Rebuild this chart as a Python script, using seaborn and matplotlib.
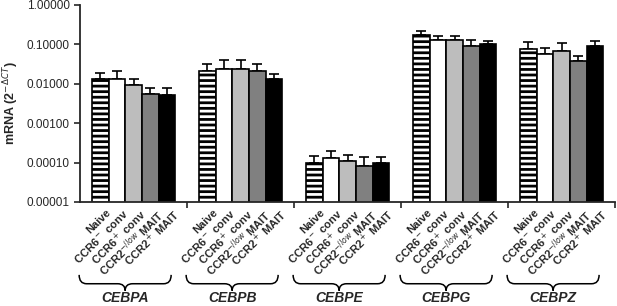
import matplotlib
matplotlib.use("Agg")
import matplotlib.pyplot as plt
from matplotlib.path import Path
from matplotlib.patches import PathPatch
import matplotlib.transforms as mtransforms
import numpy as np
import pandas as pd
import seaborn as sns

genes = ["CEBPA", "CEBPB", "CEBPE", "CEBPG", "CEBPZ"]
cells = ["Naive", "CCR6$^-$ conv", "CCR6$^+$ conv", "CCR2$^{-/low}$ MAIT", "CCR2$^+$ MAIT"]

# mean expression per gene (rows) and cell type (cols)
means = [
    [0.013, 0.013, 0.0095, 0.0056, 0.0052],
    [0.021, 0.023, 0.023, 0.021, 0.013],
    [0.00010, 0.00013, 0.00011, 0.000083, 0.000098],
    [0.17, 0.125, 0.125, 0.092, 0.10],
    [0.075, 0.058, 0.068, 0.038, 0.088],
]
# top of error bar
upper = [
    [0.019, 0.021, 0.013, 0.0076, 0.0080],
    [0.032, 0.040, 0.040, 0.031, 0.018],
    [0.00015, 0.00020, 0.00016, 0.00014, 0.00014],
    [0.22, 0.16, 0.16, 0.13, 0.12],
    [0.115, 0.080, 0.110, 0.050, 0.120],
]

colors = ["white", "white", "#bdbdbd", "#808080", "black"]

rows = []
for g, mrow, urow in zip(genes, means, upper):
    for c, m, u in zip(cells, mrow, urow):
        rows.append({"gene": g, "cell": c, "value": m, "upper": u})
df = pd.DataFrame(rows)

sns.set_style("ticks")
plt.rcParams["font.family"] = ["Liberation Sans", "DejaVu Sans"]
plt.rcParams["hatch.linewidth"] = 2.0
plt.rcParams["hatch.color"] = "black"

fig = plt.figure(figsize=(6.17, 3.06), dpi=100)
ax = fig.add_axes([0.13, 0.34, 0.867, 0.644])

sns.barplot(data=df, x="gene", y="value", hue="cell", order=genes, hue_order=cells,
            palette=colors, errorbar=None, width=0.78, edgecolor="black",
            linewidth=1.2, legend=False, ax=ax)
ax.set_yscale("log", nonpositive="clip")

# error bars (upper only), hatch for naive, rotated cell labels
for i, c in enumerate(cells):
    cont = ax.containers[i]
    sub = df[df.cell == c].set_index("gene").loc[genes]
    xs = [p.get_x() + p.get_width() / 2 for p in cont.patches]
    ax.errorbar(xs, sub["value"], yerr=[np.zeros(len(xs)), sub["upper"] - sub["value"]],
                fmt="none", ecolor="black", elinewidth=1.2, capsize=3.5, capthick=1.2, zorder=1)
    if i == 0:
        for p in cont.patches:
            p.set_hatch("---")
    for j, p in enumerate(cont.patches):
        p.set_zorder(2)
        ax.text(xs[j] + 0.05, 0.0000075, c, rotation=45, ha="right", va="top",
                rotation_mode="anchor", fontsize=8, fontweight="bold")

ax.set_ylim(1e-5, 1)
ax.set_xlim(-0.5, 4.5)
ax.set_yticks([1e-5, 1e-4, 1e-3, 1e-2, 1e-1, 1])
ax.set_yticklabels(["0.00001", "0.00010", "0.00100", "0.01000", "0.10000", "1.00000"], fontsize=8.5)
ax.minorticks_off()
ax.set_xticks([0.5, 1.5, 2.5, 3.5, 4.5])
ax.set_xticklabels([])
ax.tick_params(axis="both", direction="out", width=1.2, length=4)
ax.set_xlabel("")
ax.set_ylabel("mRNA (2$^{-\\Delta CT}$)", fontsize=9, fontweight="bold")
sns.despine(ax=ax)
for s in ["left", "bottom"]:
    ax.spines[s].set_linewidth(1.3)

# curly braces and gene names
trans = mtransforms.blended_transform_factory(ax.transData, ax.transAxes)
for k, g in enumerate(genes):
    xc = k - 0.08
    x0, x1 = xc - 0.43, xc + 0.43
    yt, ym, yb = -0.37, -0.415, -0.45
    r = 0.07
    verts = [(x0, yt), (x0, ym), (x0 + r, ym), (xc - r, ym), (xc, ym), (xc, yb),
             (xc, ym), (xc + r, ym), (x1 - r, ym), (x1, ym), (x1, yt)]
    codes = [Path.MOVETO, Path.CURVE3, Path.CURVE3, Path.LINETO, Path.CURVE3, Path.CURVE3,
             Path.CURVE3, Path.CURVE3, Path.LINETO, Path.CURVE3, Path.CURVE3]
    ax.add_patch(PathPatch(Path(verts, codes), transform=trans, fill=False,
                           lw=1.1, edgecolor="black", clip_on=False))
    ax.text(xc, -0.485, g, transform=trans, ha="center", va="center",
            fontsize=10, fontweight="bold", fontstyle="italic")

fig.savefig("out.png", dpi=100)
